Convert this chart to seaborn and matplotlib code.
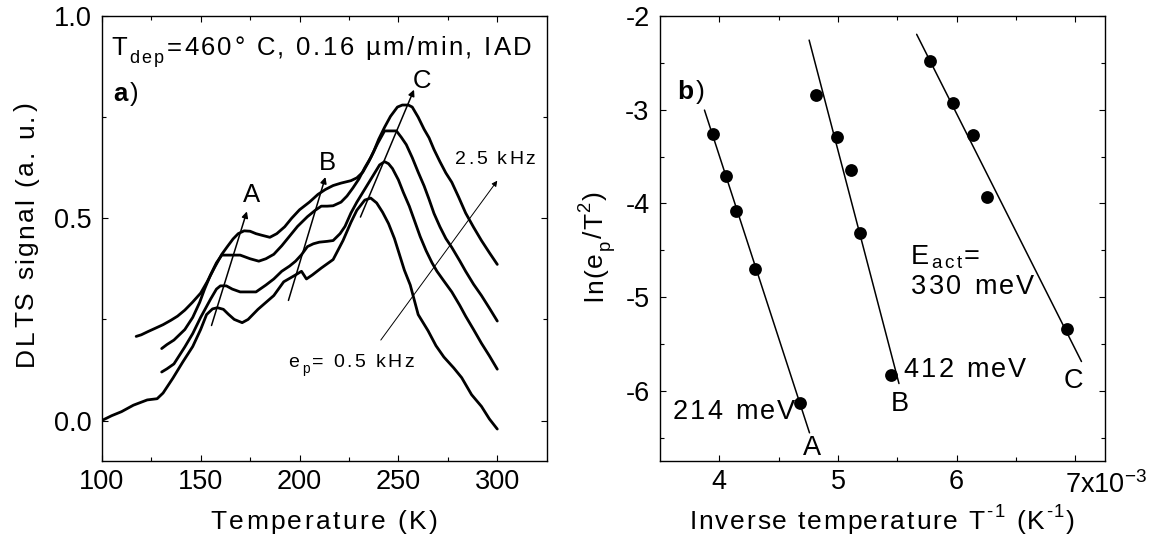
import numpy as np
import pandas as pd
import matplotlib
matplotlib.use("Agg")
import matplotlib.pyplot as plt
import seaborn as sns
from matplotlib.font_manager import FontProperties
from matplotlib.transforms import ScaledTranslation

# ---------------- data: panel a (DLTS spectra) ----------------
T_05 = [100, 105, 110, 116, 123, 128, 131, 136, 141, 146, 150, 153, 156, 158.5, 161.5, 164, 167, 171, 174,
        179, 183, 187, 192, 198, 201, 203.5, 206.5, 211, 217, 222, 226, 229, 233, 236, 239, 242, 245, 248,
        250.5, 253, 256, 260, 265, 269, 273, 278, 282, 287, 292, 296, 300]
S_05 = [0.0, 0.012, 0.022, 0.038, 0.051, 0.054, 0.068, 0.105, 0.145, 0.183, 0.225, 0.262, 0.276, 0.279, 0.275,
        0.263, 0.250, 0.242, 0.250, 0.275, 0.292, 0.309, 0.343, 0.360, 0.369, 0.350, 0.360, 0.377, 0.398, 0.445,
        0.490, 0.520, 0.545, 0.550, 0.538, 0.515, 0.487, 0.450, 0.411, 0.372, 0.335, 0.262, 0.222, 0.185, 0.157,
        0.130, 0.106, 0.064, 0.035, 0.004, -0.021]

T_2 = [130.3, 133, 136.5, 142, 146, 150, 155, 158, 160, 163, 166, 170, 174, 178, 183, 187, 191, 195, 198, 201,
       204, 207, 210, 214, 217, 220.5, 223, 226, 229, 232, 235, 238, 240.5, 243, 245, 247, 250, 252.5, 255.5,
       258, 261, 264, 267, 269.5, 273, 277, 281, 284, 288, 292, 296, 300]
S_2 = [0.120, 0.128, 0.140, 0.182, 0.215, 0.255, 0.300, 0.325, 0.333, 0.333, 0.325, 0.318, 0.318, 0.318, 0.335,
       0.350, 0.369, 0.382, 0.394, 0.410, 0.430, 0.437, 0.441, 0.443, 0.445, 0.462, 0.480, 0.513, 0.540, 0.564,
       0.588, 0.612, 0.632, 0.640, 0.635, 0.623, 0.595, 0.564, 0.530, 0.496, 0.455, 0.420, 0.390, 0.369, 0.345,
       0.318, 0.285, 0.258, 0.225, 0.191, 0.160, 0.127]

T_3 = [130.3, 133, 136.5, 142, 146, 149.5, 152, 155, 158, 160.7, 165, 170, 175, 179.4, 183, 187, 191, 194.5,
       199, 204, 208, 211, 214, 217, 221, 224, 227, 230, 233, 236, 239.5, 243, 246, 249, 251.5, 254, 257, 260,
       263, 265.5, 268, 271, 274, 277, 281, 284, 288, 292, 296, 300]
S_3 = [0.178, 0.188, 0.199, 0.225, 0.255, 0.292, 0.325, 0.360, 0.390, 0.409, 0.409, 0.409, 0.400, 0.394, 0.400,
       0.411, 0.432, 0.453, 0.480, 0.504, 0.520, 0.530, 0.530, 0.531, 0.540, 0.555, 0.575, 0.597, 0.625, 0.650,
       0.685, 0.716, 0.716, 0.716, 0.700, 0.682, 0.650, 0.614, 0.580, 0.547, 0.512, 0.479, 0.450, 0.428, 0.395,
       0.369, 0.337, 0.309, 0.278, 0.246]

T_25 = [117.4, 120, 123.4, 127, 131, 135, 138.3, 142, 145.8, 150, 153.3, 157, 160.7, 163.5, 166.4, 169, 172, 175,
        178, 181, 185, 188.5, 192.5, 196, 200, 205, 209.3, 213, 217, 221, 226, 229, 232, 235, 237.5, 240, 243,
        246, 249.5, 252, 255, 257, 260, 263, 265.5, 268, 271, 274, 277, 280.5, 284, 288, 292, 296, 300]
S_25 = [0.208, 0.212, 0.220, 0.228, 0.237, 0.248, 0.258, 0.273, 0.292, 0.315, 0.343, 0.378, 0.411, 0.430, 0.449,
        0.462, 0.469, 0.468, 0.462, 0.458, 0.453, 0.462, 0.479, 0.500, 0.521, 0.540, 0.559, 0.571, 0.581, 0.587,
        0.593, 0.600, 0.614, 0.640, 0.665, 0.695, 0.725, 0.752, 0.775, 0.780, 0.780, 0.775, 0.750, 0.720, 0.699,
        0.670, 0.640, 0.612, 0.589, 0.552, 0.513, 0.478, 0.445, 0.415, 0.386]

curves = [("0.5 kHz", T_05, S_05), ("1 kHz", T_2, S_2), ("1.5 kHz", T_3, S_3), ("2.5 kHz", T_25, S_25)]

# ---------------- data: panel b (Arrhenius plot) ----------------
invT_A = [3.951, 4.055, 4.140, 4.304, 4.684]
ln_A = [-3.257, -3.710, -4.077, -4.700, -6.136]
invT_B = [4.818, 4.991, 5.109, 5.182, 5.444]
ln_B = [-2.846, -3.294, -3.643, -4.316, -5.831]
invT_C = [5.778, 5.967, 6.134, 6.255, 6.933]
ln_C = [-2.478, -2.930, -3.272, -3.930, -5.338]
# fitted straight lines (end points)
fit_A_x = [3.875, 4.760]
fit_A_y = [-3.004, -6.449]
fit_B_x = [4.757, 5.514]
fit_B_y = [-2.257, -5.923]
fit_C_x = [5.663, 7.052]
fit_C_y = [-2.195, -5.688]
x_ticks_b = [4, 5, 6, 7]
x_ticklabels_b = ["4", "5", "6", ""]

# ---------------- style ----------------
sns.set_theme(style="ticks")
FAM = ["Liberation Sans", "DejaVu Sans"]
plt.rcParams.update({
    "font.family": FAM,
    "mathtext.fontset": "custom",
    "mathtext.rm": "Liberation Sans",
    "mathtext.it": "Liberation Sans:italic",
    "mathtext.bf": "Liberation Sans:bold",
    "mathtext.default": "regular",
    "axes.linewidth": 1.0,
    "axes.edgecolor": "black",
    "xtick.direction": "in",
    "ytick.direction": "in",
    "xtick.top": True,
    "ytick.right": True,
    "xtick.color": "black",
    "ytick.color": "black",
    "text.color": "black",
    "axes.labelcolor": "black",
})

W, H, DPI = 1151, 538, 100
fig = plt.figure(figsize=(W / DPI, H / DPI), dpi=DPI)
axa = fig.add_axes([0.0884, 0.1431, 0.3866, 0.8271])
axb = fig.add_axes([0.5734, 0.1431, 0.3866, 0.8271])
renderer = fig.canvas.get_renderer()

TICK_FS = 19.5


def advance(s, fp):
    w1 = renderer.get_text_width_height_descent("X" + s + "X", fp, ismath=False)[0]
    w0 = renderer.get_text_width_height_descent("XX", fp, ismath=False)[0]
    return w1 - w0


def tracked(x, y, segs, size, track=2.4, ha="left", rotation=0, transform=None):
    """Text with letter spacing; segs = [(string, scale, rise_em, weight), ...]."""
    items = []
    pos = 0.0
    for s, sc, rise, wt in segs:
        fp = FontProperties(family=FAM, size=size * sc, weight=wt)
        for ch in s:
            items.append((ch, fp, pos, rise * size))
            pos += advance(ch, fp) + track
    total = pos - track
    start = {"left": 0.0, "center": -total / 2.0, "right": -total}[ha]
    for ch, fp, off, rise_pt in items:
        along = (start + off) * 72.0 / DPI
        if rotation == 0:
            dx, dy = along, rise_pt
        else:
            dx, dy = -rise_pt, along
        tr = transform + ScaledTranslation(dx / 72.0, dy / 72.0, fig.dpi_scale_trans)
        fig.text(x, y, ch, fontproperties=fp, transform=tr, ha="left", va="baseline",
                 rotation=rotation, rotation_mode="anchor")


def fig_px(xp, yp):
    return xp / W, 1 - yp / H


for ax in (axa, axb):
    ax.tick_params(which="major", length=4.3, width=0.8, labelsize=TICK_FS, pad=6.0)
    ax.tick_params(which="minor", length=2.7, width=0.8)
    ax.tick_params(axis="y", which="major", pad=7.5)

# ---------------- panel a ----------------
for name, T, S in curves:
    df = pd.DataFrame({"T": T, "S": S})
    sns.lineplot(data=df, x="T", y="S", ax=axa, color="black", lw=2.0, sort=False,
                 estimator=None)

axa.set_xlim(100, 325)
axa.set_ylim(-0.1, 1.0)
axa.set_xticks([100, 150, 200, 250, 300])
axa.set_xticks([125, 175, 225, 275], minor=True)
axa.set_yticks([0.0, 0.5, 1.0])
axa.set_yticks([0.25, 0.75], minor=True)
axa.set_yticklabels(["0.0", "0.5", "1.0"])
axa.set_xlabel("")
axa.set_ylabel("")

arrow_kw = dict(arrowstyle="-|>", color="black", lw=1.1, mutation_scale=9, shrinkA=0, shrinkB=0)
axa.annotate("", xy=(173.4, 0.517), xytext=(155.5, 0.235), arrowprops=arrow_kw)
axa.annotate("", xy=(213.1, 0.602), xytext=(194.4, 0.297), arrowprops=arrow_kw)
axa.annotate("", xy=(257.9, 0.818), xytext=(230.8, 0.503), arrowprops=arrow_kw)
axa.annotate("", xy=(300.0, 0.593), xytext=(241.1, 0.199),
             arrowprops=dict(arrowstyle="-|>", color="black", lw=0.7, mutation_scale=8, shrinkA=0, shrinkB=0))

tracked(104.7, 0.903, [("T", 1, 0, "normal"), ("dep", 0.7, -0.3, "normal"),
                       ("=460° C, 0.16 µm/min, IAD", 1, 0, "normal")], 18.5, transform=axa.transData)
tracked(105.6, 0.79, [("a", 1, 0, "bold"), (")", 1, 0, "normal")], 18.5, transform=axa.transData)
axa.text(175.7, 0.540, "A", fontsize=18.5, va="baseline", ha="center")
axa.text(214.0, 0.619, "B", fontsize=18.5, va="baseline", ha="center")
axa.text(261.7, 0.822, "C", fontsize=18.5, va="baseline", ha="center")
tracked(278.5, 0.633, [("2.5 kHz", 1, 0, "normal")], 14, transform=axa.transData)
tracked(194.4, 0.133, [("e", 1, 0, "normal"), ("p", 0.7, -0.3, "normal"),
                       ("= 0.5 kHz", 1, 0, "normal")], 14, transform=axa.transData)

# axis titles of panel a
tracked(*fig_px(324, 529), [("Temperature (K)", 1, 0, "normal")], 19, ha="center",
        transform=fig.transFigure)
tracked(*fig_px(33, 234), [("DLTS signal (a. u.)", 1, 0, "normal")], 19, ha="center",
        rotation=90, transform=fig.transFigure)

# ---------------- panel b ----------------
for xs, ys in ((invT_A, ln_A), (invT_B, ln_B), (invT_C, ln_C)):
    sns.scatterplot(x=xs, y=ys, ax=axb, color="black", s=85, edgecolor="black", linewidth=0, zorder=3)
for xs, ys in ((fit_A_x, fit_A_y), (fit_B_x, fit_B_y), (fit_C_x, fit_C_y)):
    sns.lineplot(x=xs, y=ys, ax=axb, color="black", lw=1.1, sort=False, estimator=None)

axb.set_xlim(3.5, 7.25)
axb.set_ylim(-6.75, -2)
axb.set_xticks(x_ticks_b)
axb.set_xticklabels(x_ticklabels_b)
axb.set_xticks([4.5, 5.5, 6.5], minor=True)
axb.set_yticks([-6, -5, -4, -3, -2])
axb.set_yticklabels(["-6", "-5", "-4", "-3", "-2"])
axb.set_yticks([-6.5, -5.5, -4.5, -3.5, -2.5], minor=True)
axb.set_xlabel("")
axb.set_ylabel("")
# last tick label with the exponent, written as one label like the original
axb.annotate("7x10$^{-3}$", xy=(7, 0), xycoords=("data", "axes fraction"),
             xytext=(-7.5, -23.0), textcoords="offset points", ha="left", va="baseline",
             fontsize=TICK_FS)

tracked(3.647, -2.888, [("b", 1, 0, "bold"), (")", 1, 0, "normal")], 19, transform=axb.transData)
tracked(3.605, -6.305, [("214 meV", 1, 0, "normal")], 19.5, transform=axb.transData)
axb.text(4.781, -6.686, "A", fontsize=19.5, va="baseline", ha="center")
tracked(5.550, -5.853, [("412 meV", 1, 0, "normal")], 19.5, transform=axb.transData)
axb.text(5.520, -6.220, "B", fontsize=19.5, va="baseline", ha="center")
tracked(5.617, -4.642, [("E", 1, 0, "normal"), ("act", 0.7, -0.15, "normal"), ("=", 1, 0, "normal")],
        19.5, transform=axb.transData)
tracked(5.617, -4.972, [("330 meV", 1, 0, "normal")], 19.5, transform=axb.transData)
axb.text(6.985, -5.974, "C", fontsize=19.5, va="baseline", ha="center")

tracked(*fig_px(882, 529), [("Inverse temperature T", 1, 0, "normal"), ("-1", 0.7, 0.45, "normal"),
                            (" (K", 1, 0, "normal"), ("-1", 0.7, 0.45, "normal"), (")", 1, 0, "normal")],
        19, track=1.8, ha="center", transform=fig.transFigure)
tracked(*fig_px(602, 246), [("ln(e", 1, 0, "normal"), ("p", 0.7, -0.3, "normal"), ("/T", 1, 0, "normal"),
                            ("2", 0.7, 0.45, "normal"), (")", 1, 0, "normal")],
        19, track=1.6, ha="center", rotation=90, transform=fig.transFigure)

for ax in (axa, axb):
    for sp in ax.spines.values():
        sp.set_visible(True)
        sp.set_linewidth(1.0)
        sp.set_color("black")

fig.savefig("out.png", dpi=DPI)
